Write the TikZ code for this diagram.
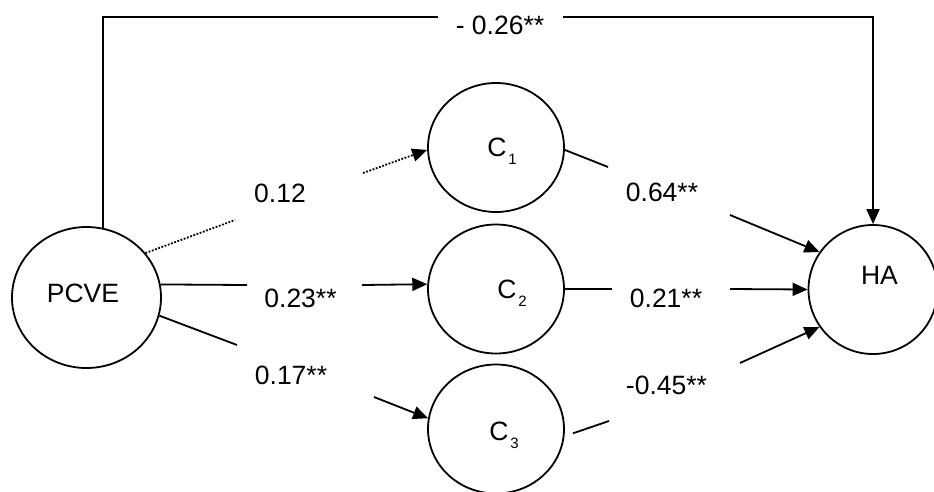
\documentclass[tikz,border=0pt]{standalone}
\usepackage{fontspec}
\setmainfont{Liberation Sans}
\usetikzlibrary{arrows.meta,shapes.geometric}
\newcommand{\csub}[1]{\kern2pt\raisebox{-8pt}[0pt][0pt]{\fontsize{15}{15}\selectfont #1}}
\begin{document}
\begin{tikzpicture}[x=1pt,y=-1pt,line width=1.8pt,
  every node/.style={font=\fontsize{26.5}{30}\selectfont},
  latent/.style={draw,ellipse,inner sep=0pt,minimum width=136pt,minimum height=129pt},
  effect/.style={-{Triangle[length=15pt,width=13pt]}},
  nonsig/.style={dash pattern=on 1.8pt off 1.6pt}]
\useasboundingbox (0,0) rectangle (934,491);
\node[latent,minimum width=149pt,minimum height=141pt,label={[xshift=-3.5pt,yshift=4.5pt]center:PCVE}] (PCVE) at (86.5,297.5) {};
\node[latent,label={[xshift=6pt]center:C\csub{1}}] (C1) at (496,147.5) {};
\node[latent,label={[xshift=16pt]center:C\csub{2}}] (C2) at (496,289) {};
\node[latent,label={[xshift=8pt,yshift=-2pt]center:C\csub{3}}] (C3) at (496,429) {};
\node[latent,minimum width=129pt,minimum height=129pt,label={[xshift=6.5pt,yshift=14.5pt]center:HA}] (HA) at (873,289.5) {};
% ends of the broken paths
\coordinate (t1) at (438,17);  \coordinate (t2) at (563,17);
\coordinate (a1) at (235,220); \coordinate (a2) at (363,173);
\coordinate (b1) at (247,285); \coordinate (b2) at (362,285);
\coordinate (c1) at (237,345); \coordinate (c2) at (374,397);
\coordinate (d1) at (608,167); \coordinate (d2) at (730,215);
\coordinate (e1) at (612,289); \coordinate (e2) at (730,289);
\coordinate (f1) at (609,421); \coordinate (f2) at (740,363);
% direct effect
\draw (PCVE.77) |- (t1);
\draw[effect] (t2) -| (HA.north);
\node (wTop) at (500,25) {- 0.26**};
% PCVE to mediators
\draw[nonsig] (PCVE.37) -- (a1);
\draw[nonsig,effect] (a2) -- (C1.182);
\node (w1) at (280,193) {0.12};
\draw (PCVE.10) -- (b1);
\draw[effect] (b2) -- (C2.176);
\node (w2) at (300.5,298) {0.23**};
\draw (PCVE.-14) -- (c1);
\draw[effect] (c2) -- (C3.171);
\node (w3) at (291,375) {0.17**};
% mediators to HA
\draw (C1.-2) -- (d1);
\draw[effect] (d2) -- (HA.145);
\node (w4) at (662,192) {0.64**};
\draw (C2.east) -- (e1);
\draw[effect] (e2) -- (HA.west);
\node (w5) at (666,298) {0.21**};
\draw[shorten <=9pt] (C3.-6) -- (f1);
\draw[effect] (f2) -- (HA.215);
\node (w6) at (666.5,385) {-0.45**};
\end{tikzpicture}
\end{document}
